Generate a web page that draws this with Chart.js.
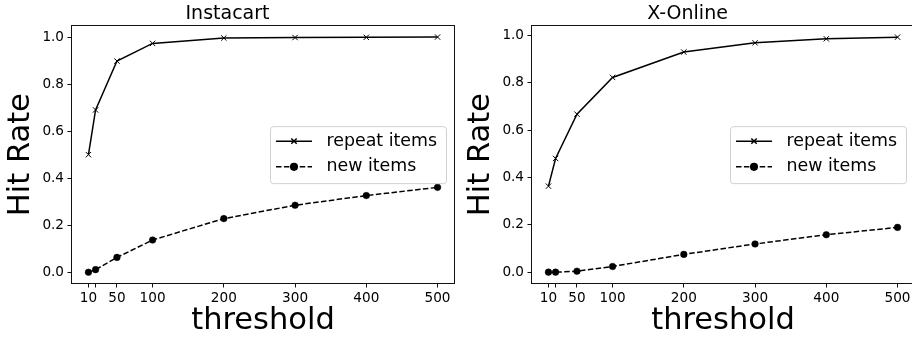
<!DOCTYPE html>
<html>
<head>
<meta charset="utf-8">
<script src="https://cdn.jsdelivr.net/npm/chart.js@4"></script>
<style>
    html, body { margin: 0; padding: 0; background: #fff; overflow: hidden; width: 912px; height: 339px; }
    .panel { position: absolute; top: 0; width: 456px; height: 339px; }
</style>
</head>
<body>
<div class="panel" style="left:0"><canvas id="instacart"></canvas></div>
<div class="panel" style="left:460px"><canvas id="xonline"></canvas></div>
<script>
// data
const thresholds  = [10, 20, 50, 100, 200, 300, 400, 500];
const xTicks      = [10, 20, 50, 100, 200, 300, 400, 500];
const xTickLabels = ['10', '', '50', '100', '200', '300', '400', '500'];
const yTicks      = [0, 0.2, 0.4, 0.6, 0.8, 1.0];
const seriesNames = ['repeat items', 'new items'];

const instacartRepeat = [0.500, 0.690, 0.898, 0.973, 0.996, 0.998, 0.999, 1.000];
const instacartNew    = [0.000, 0.011, 0.063, 0.137, 0.228, 0.285, 0.326, 0.361];
const xonlineRepeat   = [0.363, 0.480, 0.667, 0.822, 0.929, 0.968, 0.985, 0.992];
const xonlineNew      = [0.000, 0.000, 0.004, 0.024, 0.075, 0.119, 0.158, 0.189];

const FONT = 'DejaVu Sans';

// box around the plot area (matplotlib spines)
const framePlugin = {
    id: 'frame',
    afterDatasetsDraw(chart) {
        const { ctx, chartArea: a } = chart;
        ctx.save();
        ctx.strokeStyle = '#111';
        ctx.lineWidth = 1;
        ctx.strokeRect(Math.round(a.left) + 0.5, Math.round(a.top) + 0.5,
                       Math.round(a.right - a.left) - 1, Math.round(a.bottom - a.top) - 1);
        ctx.restore();
    }
};

// legend drawn inside the plot, "center right"
const insideLegend = {
    id: 'insideLegend',
    afterDraw(chart) {
        const { ctx, chartArea: a } = chart;
        const w = 176, h = 57;
        const x = a.right - 9 - w;
        const y = (a.top + a.bottom) / 2 - h / 2;
        ctx.save();
        ctx.beginPath();
        ctx.roundRect(x + 0.5, y + 0.5, w, h, 3);
        ctx.fillStyle = 'rgba(255,255,255,0.8)';
        ctx.fill();
        ctx.strokeStyle = '#d0d0d0';
        ctx.lineWidth = 1;
        ctx.stroke();

        chart.data.datasets.forEach((ds, i) => {
            const cy = y + 15 + i * 25.7;
            ctx.beginPath();
            ctx.setLineDash(ds.borderDash || []);
            ctx.strokeStyle = ds.borderColor;
            ctx.lineWidth = ds.borderWidth;
            ctx.moveTo(x + 6, cy);
            ctx.lineTo(x + 42, cy);
            ctx.stroke();
            ctx.setLineDash([]);
            Chart.helpers.drawPoint(ctx, {
                pointStyle: ds.pointStyle,
                radius: ds.pointRadius,
                borderWidth: ds.pointBorderWidth,
                rotation: 0
            }, x + 24, cy);
            ctx.fillStyle = '#000';
            ctx.font = `17.4px "${FONT}"`;
            ctx.textBaseline = 'middle';
            ctx.fillText(ds.label, x + 56.5, cy);
        });
        ctx.restore();
    }
};

function makePanel(canvasId, title, repeatVals, newVals, yMax) {
    const ctx = document.getElementById(canvasId).getContext('2d');
    ctx.fillStyle = '#000';
    ctx.strokeStyle = '#000';

    return new Chart(ctx, {
        type: 'line',
        data: {
            datasets: [
                {
                    label: seriesNames[0],
                    data: thresholds.map((t, i) => ({ x: t, y: repeatVals[i] })),
                    borderColor: '#000',
                    backgroundColor: '#000',
                    borderWidth: 1.5,
                    pointStyle: 'crossRot',
                    pointRadius: 3.8,
                    pointBorderWidth: 1,
                    pointBorderColor: '#000',
                    fill: false,
                    tension: 0
                },
                {
                    label: seriesNames[1],
                    data: thresholds.map((t, i) => ({ x: t, y: newVals[i] })),
                    borderColor: '#000',
                    backgroundColor: '#000',
                    borderWidth: 1.5,
                    borderDash: [5.5, 2.4],
                    pointStyle: 'circle',
                    pointRadius: 3.3,
                    pointBorderWidth: 0.5,
                    pointBackgroundColor: '#000',
                    pointBorderColor: '#000',
                    fill: false,
                    tension: 0
                }
            ]
        },
        options: {
            responsive: true,
            maintainAspectRatio: false,
            animation: false,
            layout: { autoPadding: false, padding: { left: 0, right: 1, top: 0, bottom: 0 } },
            plugins: {
                legend: { display: false },
                tooltip: { enabled: false },
                title: {
                    display: true,
                    text: title,
                    color: '#000',
                    font: { family: FONT, size: 19, weight: 'normal', lineHeight: 1.1 },
                    padding: { top: 4, bottom: 0.4 }
                }
            },
            scales: {
                x: {
                    type: 'linear',
                    min: -14.5,
                    max: 524.5,
                    afterFit: s => { s.height = 55; s.paddingLeft = 0; s.paddingRight = 0; },
                    afterBuildTicks: s => { s.ticks = xTicks.map(v => ({ value: v })); },
                    border: { display: false },
                    grid: {
                        display: true,
                        drawOnChartArea: false,
                        drawTicks: true,
                        tickLength: 3.5,
                        tickWidth: 1,
                        tickColor: '#111'
                    },
                    ticks: {
                        autoSkip: false,
                        maxRotation: 0,
                        padding: 3,
                        color: '#000',
                        font: { family: FONT, size: 13.6 },
                        callback: (v, i) => xTickLabels[i]
                    },
                    title: {
                        display: true,
                        text: 'threshold',
                        color: '#000',
                        font: { family: FONT, size: 30.5 },
                        padding: { top: 0, bottom: 0 }
                    }
                },
                y: {
                    type: 'linear',
                    min: -0.05,
                    max: yMax,
                    afterFit: s => { s.width = 71; s.paddingTop = 0; s.paddingBottom = 0; },
                    afterBuildTicks: s => { s.ticks = yTicks.map(v => ({ value: v })); },
                    border: { display: false },
                    grid: {
                        display: true,
                        drawOnChartArea: false,
                        drawTicks: true,
                        tickLength: 3.5,
                        tickWidth: 1,
                        tickColor: '#111'
                    },
                    ticks: {
                        padding: 3.5,
                        color: '#000',
                        font: { family: FONT, size: 13.6 },
                        callback: v => v.toFixed(1)
                    },
                    title: {
                        display: true,
                        text: 'Hit Rate',
                        color: '#000',
                        font: { family: FONT, size: 30.5 },
                        padding: { top: 3, bottom: 0 }
                    }
                }
            }
        },
        plugins: [framePlugin, insideLegend]
    });
}

makePanel('instacart', 'Instacart', instacartRepeat, instacartNew, 1.05);
makePanel('xonline', 'X-Online', xonlineRepeat, xonlineNew, 1.042);
</script>
</body>
</html>
